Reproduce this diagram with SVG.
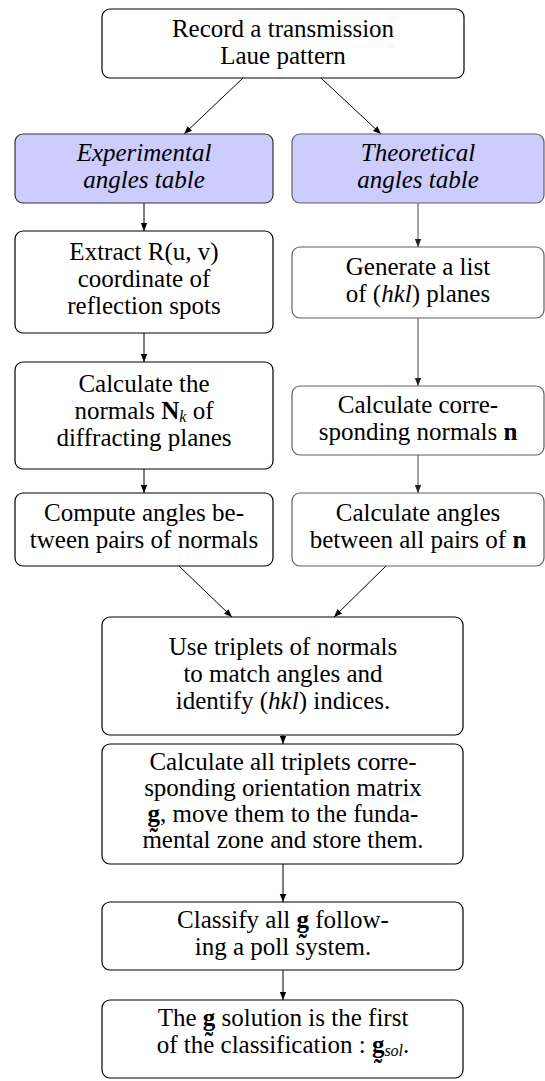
<svg xmlns="http://www.w3.org/2000/svg" width="545" height="1081" viewBox="0 0 545 1081" font-family="'Liberation Serif', 'DejaVu Serif', serif">
<style>
text{font-family:'Liberation Serif','DejaVu Serif',serif;font-size:25px;fill:#000;text-anchor:middle}
.box{fill:#fff;stroke:#000;stroke-width:1.2}
.boxg{fill:#fff;stroke:#606060;stroke-width:1.2}
.blue{fill:#ccccff;stroke:#333;stroke-width:1.2}
.blueg{fill:#ccccff;stroke:#606060;stroke-width:1.2}
.it{font-style:italic}
.b{font-weight:bold}
.sub{font-style:italic;font-size:16px}
.c{stroke:#000;stroke-width:1;fill:none}
.cg{stroke:#666;stroke-width:1.2;fill:none}
</style>
<defs>
<marker id="ah" viewBox="0 0 10 10" refX="10" refY="5" markerWidth="8" markerHeight="8" markerUnits="userSpaceOnUse" orient="auto"><path d="M0,1 L10,5 L0,9 Z" fill="#000"/></marker>
<marker id="ahg" viewBox="0 0 10 10" refX="10" refY="5" markerWidth="8" markerHeight="8" markerUnits="userSpaceOnUse" orient="auto"><path d="M0,1 L10,5 L0,9 Z" fill="#222"/></marker>
</defs>
<g id="connectors">
<line class="c" x1="243" y1="78" x2="184" y2="134" marker-end="url(#ah)"/>
<line class="c" x1="321" y1="78" x2="381" y2="134" marker-end="url(#ah)"/>
<line class="c" x1="144" y1="203" x2="144" y2="231" marker-end="url(#ah)"/>
<line class="cg" x1="418" y1="203" x2="418" y2="247" marker-end="url(#ahg)"/>
<line class="c" x1="144" y1="333" x2="144" y2="362" marker-end="url(#ah)"/>
<line class="cg" x1="418" y1="318" x2="418" y2="386" marker-end="url(#ahg)"/>
<line class="c" x1="144" y1="469" x2="144" y2="493" marker-end="url(#ah)"/>
<line class="cg" x1="418" y1="455" x2="418" y2="493" marker-end="url(#ahg)"/>
<line class="c" x1="179" y1="566" x2="232" y2="617" marker-end="url(#ah)"/>
<line class="c" x1="386" y1="566" x2="334" y2="617" marker-end="url(#ah)"/>
<line class="c" x1="283" y1="735" x2="283" y2="744" marker-end="url(#ah)"/>
<line class="c" x1="283" y1="864" x2="283" y2="902" marker-end="url(#ah)"/>
<line class="c" x1="283" y1="970" x2="283" y2="1000" marker-end="url(#ah)"/>
</g>
<g id="record">
<rect class="box" x="102" y="9" width="362" height="69" rx="8"/>
<text x="283" y="37">Record a transmission</text>
<text x="283" y="64">Laue pattern</text>
</g>
<g id="experimental">
<rect class="blue" x="15" y="134" width="258" height="69" rx="8"/>
<text class="it" x="144" y="161">Experimental</text>
<text class="it" x="144" y="188">angles table</text>
</g>
<g id="theoretical">
<rect class="blueg" x="292" y="134" width="252" height="69" rx="8"/>
<text class="it" x="418" y="161">Theoretical</text>
<text class="it" x="418" y="188">angles table</text>
</g>
<g id="extract">
<rect class="box" x="15" y="231" width="258" height="102" rx="8"/>
<text x="144" y="260">Extract R(u, v)</text>
<text x="144" y="287">coordinate of</text>
<text x="144" y="314">reflection spots</text>
</g>
<g id="generate">
<rect class="boxg" x="292" y="247" width="252" height="71" rx="8"/>
<text x="418" y="275">Generate a list</text>
<text x="418" y="302">of (<tspan class="it">hkl</tspan>) planes</text>
</g>
<g id="normals">
<rect class="box" x="15" y="362" width="258" height="107" rx="8"/>
<text x="144" y="392">Calculate the</text>
<text x="144" y="419">normals <tspan class="b">N</tspan><tspan class="sub" dy="3">k</tspan><tspan dy="-3"> of</tspan></text>
<text x="144" y="446">diffracting planes</text>
</g>
<g id="corresponding">
<rect class="boxg" x="292" y="386" width="252" height="69" rx="8"/>
<text x="418" y="413">Calculate corre-</text>
<text x="418" y="440">sponding normals <tspan class="b">n</tspan></text>
</g>
<g id="compute">
<rect class="box" x="15" y="493" width="258" height="73" rx="8"/>
<text x="144" y="521">Compute angles be-</text>
<text x="144" y="548">tween pairs of normals</text>
</g>
<g id="calcangles">
<rect class="boxg" x="292" y="493" width="252" height="73" rx="8"/>
<text x="418" y="521">Calculate angles</text>
<text x="418" y="548">between all pairs of <tspan class="b">n</tspan></text>
</g>
<g id="triplets">
<rect class="box" x="102" y="617" width="361" height="118" rx="8"/>
<text x="283" y="655">Use triplets of normals</text>
<text x="283" y="682">to match angles and</text>
<text x="283" y="709">identify (<tspan class="it">hkl</tspan>) indices.</text>
</g>
<g id="orientation">
<rect class="box" x="102" y="744" width="361" height="120" rx="8"/>
<text x="283" y="770">Calculate all triplets corre-</text>
<text x="283" y="796">sponding orientation matrix</text>
<text x="283" y="822"><tspan class="b">g&#x330;</tspan>, move them to the funda-</text>
<text x="283" y="848">mental zone and store them.</text>
</g>
<g id="classify">
<rect class="box" x="102" y="902" width="361" height="68" rx="8"/>
<text x="283" y="928">Classify all <tspan class="b">g&#x330;</tspan> follow-</text>
<text x="283" y="955">ing a poll system.</text>
</g>
<g id="solution">
<rect class="box" x="102" y="1000" width="361" height="78" rx="8"/>
<text x="283" y="1026">The <tspan class="b">g&#x330;</tspan> solution is the first</text>
<text x="283" y="1053">of the classification : <tspan class="b">g&#x330;</tspan><tspan class="sub" dy="3">sol</tspan><tspan dy="-3">.</tspan></text>
</g>
</svg>
